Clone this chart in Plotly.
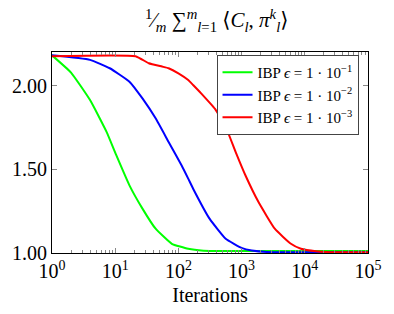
import plotly.graph_objects as go

# Iterations and objective values
green_x = [1, 2, 4.0, 7.3, 10.4, 16.8, 27, 43.6, 78.7, 143, 250, 500, 1000, 10000, 100000]
green = [2.18, 2.077, 1.913, 1.723, 1.584, 1.404, 1.265, 1.145, 1.055, 1.025, 1.014, 1.012, 1.012, 1.012, 1.012]
blue_x = [1, 4.0, 8.2, 16.8, 27, 43.6, 70, 112, 143, 171, 311, 560, 1020, 1450, 2500, 5000, 100000]
blue = [2.18, 2.153, 2.103, 2.023, 1.923, 1.804, 1.663, 1.524, 1.444, 1.384, 1.205, 1.085, 1.029, 1.015, 1.006, 1.004, 1.004]
red_x = [1, 21, 34, 55, 70, 100, 143, 171, 229, 380, 560, 803, 1148, 1850, 3350, 6030, 8700, 15000, 25000, 100000]
red = [2.175, 2.175, 2.133, 2.113, 2.103, 2.073, 2.033, 2.003, 1.953, 1.86, 1.753, 1.604, 1.464, 1.304, 1.145, 1.055, 1.025, 1.01, 1.005, 1.004]

series = [
    ("IBP <i>ϵ</i> = 1 · 10<sup>−1</sup>", green_x, green, "#00ff00"),
    ("IBP <i>ϵ</i> = 1 · 10<sup>−2</sup>", blue_x, blue, "#0000ff"),
    ("IBP <i>ϵ</i> = 1 · 10<sup>−3</sup>", red_x, red, "#ff0000"),
]
xticks = [1, 10, 100, 1000, 10000, 100000]
xticktext = ["10<sup>0</sup>", "10<sup>1</sup>", "10<sup>2</sup>", "10<sup>3</sup>", "10<sup>4</sup>", "10<sup>5</sup>"]
yticks = [1.0, 1.5, 2.0]

font = "'Liberation Serif', 'DejaVu Serif', serif"
fig = go.Figure()
for name, x, y, c in series:
    fig.add_trace(go.Scatter(x=x, y=y, mode="lines", name=name,
                             line=dict(color=c, width=2, shape="spline", smoothing=0.4)))

fig.update_layout(
    width=394, height=314,
    margin=dict(l=51, r=23, t=52, b=61),
    paper_bgcolor="white", plot_bgcolor="white",
    font=dict(family=font, size=20, color="black"),
    title=dict(text="<sup>1</sup>⁄<sub><i>m</i></sub> ∑<sup><i>m</i></sup><sub><i>l</i>=1</sub> ⟨<i>C<sub>l</sub></i>, <i>π<sup>k</sup><sub>l</sub></i>⟩",
               x=0.55, xanchor="center", y=0.936, yanchor="middle", font=dict(family=font, size=21)),
    legend=dict(x=0.97, xanchor="right", y=0.985, yanchor="top",
                bgcolor="white", bordercolor="#444", borderwidth=1,
                font=dict(family=font, size=15), tracegroupgap=0),
    showlegend=True,
)
fig.update_xaxes(type="log", range=[0, 5],
                 tickvals=xticks, ticktext=xticktext,
                 ticks="inside", ticklen=5, tickcolor="#888", mirror="allticks",
                 showline=True, linecolor="black", linewidth=1, showgrid=False, zeroline=False,
                 minor=dict(ticks="inside", ticklen=3, tickcolor="#888", dtick="D1", showgrid=False),
                 tickfont=dict(family=font, size=20),
                 title=dict(text="Iterations", standoff=6, font=dict(family=font, size=20)))
fig.update_yaxes(range=[1.0, 2.2], tickvals=yticks, tickformat=".2f",
                 tickfont=dict(family=font, size=20),
                 ticks="inside", ticklen=5, tickcolor="#888", mirror="allticks",
                 showline=True, linecolor="black", linewidth=1, showgrid=False, zeroline=False)

fig.write_html("out.html")
